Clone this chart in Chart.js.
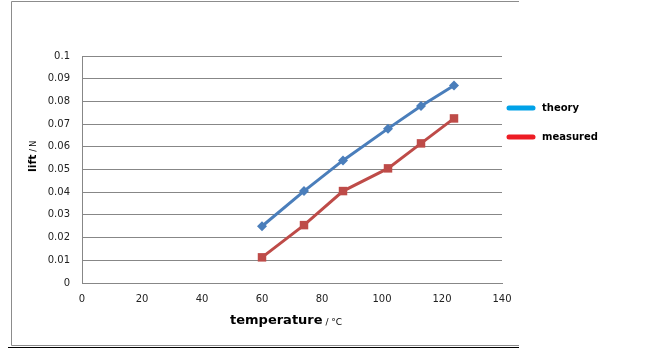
<!DOCTYPE html>
<html>
<head>
<meta charset="utf-8">
<script src="https://cdn.jsdelivr.net/npm/chart.js@4/dist/chart.umd.min.js"></script>
<style>
  body { margin: 0; background: #fff; }
  #wrap { width: 661px; height: 349px; }
</style>
</head>
<body>
<div id="wrap"><canvas id="myChart" width="661" height="349"></canvas></div>
<script>
// Dados
const temperatures = [60, 74, 87, 102, 113, 124];
const theory = [0.025, 0.0405, 0.054, 0.068, 0.078, 0.087];
const measured = [0.0113, 0.0255, 0.0405, 0.0505, 0.0615, 0.0725];
const seriesNames = ['theory', 'measured'];
const yTickLabels = ['0', '0.01', '0.02', '0.03', '0.04', '0.05', '0.06', '0.07', '0.08', '0.09', '0.1'];
const xTickLabels = ['0', '20', '40', '60', '80', '100', '120', '140'];

const legendColors = ['#00a2e8', '#ed1c24'];
const gridColor = '#878787';

// Moldura e titulos
const decorPlugin = {
  id: 'decor',
  beforeDraw(chart) {
    const ctx = chart.ctx;
    ctx.save();
    ctx.fillStyle = '#fff';
    ctx.fillRect(0, 0, chart.width, chart.height);
    ctx.strokeStyle = '#8c8c8c';
    ctx.lineWidth = 1;
    ctx.beginPath();
    ctx.moveTo(519, 1.5); ctx.lineTo(11.5, 1.5); ctx.lineTo(11.5, 345.5); ctx.lineTo(519, 345.5);
    ctx.stroke();
    ctx.strokeStyle = '#000';
    ctx.beginPath();
    ctx.moveTo(8, 347.5); ctx.lineTo(519, 347.5);
    ctx.stroke();
    ctx.restore();
  },
  afterDraw(chart) {
    const ctx = chart.ctx;
    ctx.save();
    ctx.fillStyle = '#000';
    ctx.textBaseline = 'middle';

    // titulo x
    ctx.textAlign = 'left';
    ctx.font = 'bold 13px "DejaVu Sans"';
    ctx.fillText('temperature', 230, 321);
    const w = ctx.measureText('temperature').width;
    ctx.font = '9px "DejaVu Sans"';
    ctx.fillText(' / °C', 230 + w, 323);

    // titulo y
    ctx.translate(33, 172);
    ctx.rotate(-Math.PI / 2);
    ctx.font = 'bold 11px "DejaVu Sans"';
    ctx.fillText('lift', 0, 0);
    const w2 = ctx.measureText('lift').width;
    ctx.font = '8px "DejaVu Sans"';
    ctx.fillText(' / N', w2, 1);
    ctx.setTransform(1, 0, 0, 1, 0, 0);

    // legenda
    const ys = [108, 137];
    seriesNames.forEach((name, i) => {
      ctx.strokeStyle = legendColors[i];
      ctx.lineWidth = 5;
      ctx.lineCap = 'round';
      ctx.beginPath();
      ctx.moveTo(509, ys[i]);
      ctx.lineTo(533, ys[i]);
      ctx.stroke();
      ctx.font = 'bold 10px "DejaVu Sans"';
      ctx.fillStyle = '#000';
      ctx.fillText(name, 542, ys[i]);
    });
    ctx.restore();
  }
};

const ctx = document.getElementById('myChart').getContext('2d');

new Chart(ctx, {
  type: 'line',
  data: {
    datasets: [
      {
        label: seriesNames[0],
        data: temperatures.map((t, i) => ({ x: t, y: theory[i] })),
        borderColor: '#4a7ebb',
        backgroundColor: '#4a7ebb',
        borderWidth: 3,
        pointStyle: 'rectRot',
        pointRadius: 5,
        pointBorderWidth: 0,
        tension: 0
      },
      {
        label: seriesNames[1],
        data: temperatures.map((t, i) => ({ x: t, y: measured[i] })),
        borderColor: '#be4b48',
        backgroundColor: '#be4b48',
        borderWidth: 3,
        pointStyle: 'rect',
        pointRadius: 6,
        pointBorderWidth: 0,
        tension: 0
      }
    ]
  },
  options: {
    responsive: false,
    animation: false,
    layout: { padding: { top: 56, right: 159, left: 0, bottom: 0 } },
    plugins: {
      legend: { display: false },
      tooltip: { enabled: false }
    },
    scales: {
      x: {
        type: 'linear',
        min: 0,
        max: 140,
        afterFit: s => { s.height = 66; },
        afterBuildTicks: s => { s.ticks = xTickLabels.map(v => ({ value: Number(v) })); },
        ticks: {
          padding: 10,
          color: '#222',
          font: { family: 'DejaVu Sans', size: 10 },
          callback: (v, i) => xTickLabels[i],
          maxRotation: 0
        },
        grid: { display: false, drawTicks: false },
        border: { display: true, color: gridColor }
      },
      y: {
        min: 0,
        max: 0.1,
        afterFit: s => { s.width = 82; },
        afterBuildTicks: s => { s.ticks = yTickLabels.map(v => ({ value: Number(v) })); },
        ticks: {
          padding: 12,
          color: '#222',
          font: { family: 'DejaVu Sans', size: 10 },
          callback: (v, i) => yTickLabels[i]
        },
        grid: { color: gridColor, drawTicks: false },
        border: { display: true, color: gridColor }
      }
    }
  },
  plugins: [decorPlugin]
});
</script>
</body>
</html>
